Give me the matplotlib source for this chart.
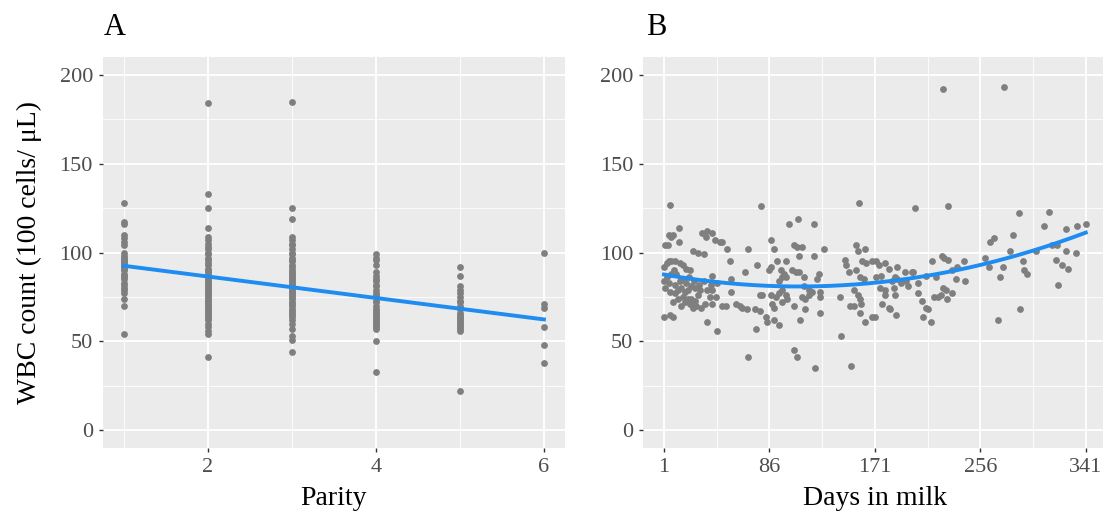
import matplotlib.pyplot as plt
import numpy as np

plt.rcParams['font.family'] = ['Liberation Serif', 'DejaVu Serif']

# Panel A: WBC count by parity
parity_1 = [128, 117, 116, 110, 108, 106, 104, 100, 98, 97, 96, 95, 95, 94, 93, 92, 91, 90, 88,
            87, 86, 85, 83, 82, 80, 79, 77, 74, 70, 54]
parity_2 = [184, 133, 125, 114, 109, 107, 105, 103, 102, 100, 99, 97, 96, 94, 93, 91, 90, 89, 88,
            87, 86, 85, 84, 83, 82, 81, 80, 79, 78, 77, 76, 75, 74, 73, 72, 71, 70, 69, 68, 67,
            66, 65, 64, 63, 62, 60, 58, 56, 54, 41]
parity_3 = [185, 125, 119, 109, 107, 105, 104, 102, 100, 99, 97, 96, 95, 93, 92, 90, 89, 88, 87,
            86, 85, 84, 83, 82, 81, 80, 79, 78, 77, 76, 75, 74, 72, 71, 70, 68, 67, 66, 65, 64,
            62, 60, 57, 53, 51, 44]
parity_4 = [99, 97, 96, 93, 89, 87, 85, 84, 82, 81, 79, 77, 76, 75, 73, 72, 70, 68, 67, 66, 65,
            64, 63, 62, 61, 60, 59, 58, 57, 50, 33]
parity_5 = [92, 87, 81, 79, 77, 75, 73, 72, 70, 69, 68, 66, 65, 64, 63, 62, 61, 60, 59, 58, 57,
            56, 22]
parity_6 = [100, 71, 69, 58, 48, 38]

# Panel B: WBC count by days in milk
dim_days = [6, 79, 158, 13, 5, 7, 8, 13, 2, 4, 32, 36, 40, 35, 42, 46, 48, 52, 24, 28, 33,
            54, 69, 66, 76, 87, 90, 102, 109, 122, 106, 108, 112, 110, 122, 130, 92, 99, 86, 87,
            95, 98, 96, 99, 94, 104, 107, 110, 114, 124, 126,
            147, 148, 150, 156, 157, 161, 164, 163, 169, 156, 159, 162, 154, 157, 159, 160, 151,
            154, 159, 163, 169, 143,
            1, 3, 5, 7, 10, 14, 16, 19, 22, 1, 2, 7, 10, 14, 15, 18, 20, 23, 16, 20, 23, 26, 22, 27,
            24, 31, 34, 38, 40, 39, 40, 43, 30, 28, 15, 10, 1, 6, 8, 36, 44, 40, 44, 48, 51, 55, 55,
            59, 62, 64, 68, 74, 78, 78, 80, 83, 84, 90, 94, 75, 87, 91, 94, 96, 99, 88, 90, 96, 100,
            106, 111, 115, 112, 115, 118, 120, 127, 127, 127, 114, 118,
            69, 106, 108, 123, 144, 152,
            3, 5, 9, 11, 12, 17, 19, 21, 25, 8, 12, 18, 6, 26, 29, 33, 36,
            203, 230, 287, 311, 307, 334, 341, 325, 282, 264, 267, 280,
            260, 263, 274, 272, 290, 291, 294, 301, 314, 318, 325, 317, 322, 327, 333, 319, 288, 270,
            243, 244, 236, 237, 233, 230, 225, 227, 217, 220, 212, 226, 228, 233, 229, 219, 222, 224,
            206, 206, 209, 212, 214, 210, 216,
            202, 198, 195, 189, 187, 186, 187, 179, 177, 182, 183, 188, 171, 179, 172, 174, 179, 182,
            176, 172, 175, 196, 192, 189, 185, 201,
            226, 275]
dim_wbc = [127, 126, 128, 114, 110, 109, 110, 106, 104, 104, 111, 112, 111, 109, 107, 106, 106, 102,
           101, 100, 99, 95, 102, 89, 93, 107, 102, 116, 119, 116, 104, 103, 103, 98, 98, 102, 95,
           95, 90, 92, 90, 88, 86, 86, 84, 90, 89, 89, 86, 85, 88,
           96, 93, 89, 104, 101, 95, 94, 102, 95, 90, 86, 85, 79, 76, 74, 71, 70, 70, 66, 61, 64, 75,
           92, 94, 95, 95, 95, 94, 93, 91, 90, 84, 80, 88, 82, 84, 80, 78, 79, 81, 75, 74, 74, 73,
           71, 70, 69, 69, 71, 75, 79, 82, 71, 75, 79, 76, 70, 77, 64, 65, 64, 61, 56, 87, 83, 70,
           70, 85, 78, 71, 70, 69, 68, 68, 67, 76, 76, 64, 61, 62, 59, 57, 76, 75, 77, 79, 76, 71,
           69, 72, 74, 70, 62, 68, 75, 74, 76, 78, 75, 78, 66, 81, 79,
           41, 45, 41, 35, 53, 36,
           86, 83, 90, 88, 79, 85, 83, 86, 84, 72, 74, 72, 78, 80, 82, 84, 79,
           125, 126, 122, 123, 115, 115, 116, 113, 110, 106, 108, 101,
           97, 92, 92, 86, 95, 90, 88, 101, 104, 104, 101, 96, 93, 91, 100, 82, 68, 62,
           95, 84, 85, 92, 90, 96, 98, 97, 95, 86, 87, 80, 79, 77, 74, 75, 75, 76,
           83, 77, 73, 69, 68, 64, 61,
           89, 81, 89, 92, 86, 80, 76, 76, 71, 69, 68, 65, 64, 79, 95, 93, 94, 91, 87, 86, 80, 84,
           83, 85, 84, 89,
           192, 193]

parity_groups = [parity_1, parity_2, parity_3, parity_4, parity_5, parity_6]
parity_x = []
parity_y = []
for i, vals in enumerate(parity_groups):
    parity_x += [i + 1] * len(vals)
    parity_y += vals
parity_x = np.array(parity_x, dtype=float)
parity_y = np.array(parity_y, dtype=float)
dim_days = np.array(dim_days, dtype=float)
dim_wbc = np.array(dim_wbc, dtype=float)

bg = '#EBEBEB'
pt_col = '#7F7F7F'
line_col = '#1E8CF0'

fig = plt.figure(figsize=(11.03, 5.13), dpi=100)
ax1 = fig.add_axes([0.0931, 0.1267, 0.4191, 0.762])
ax2 = fig.add_axes([0.5829, 0.1267, 0.4206, 0.762])


def style(ax):
    ax.set_facecolor(bg)
    for s in ax.spines.values():
        s.set_visible(False)
    ax.grid(True, which='major', color='white', linewidth=1.3)
    ax.grid(True, which='minor', color='white', linewidth=0.6)
    ax.set_axisbelow(True)
    ax.tick_params(which='major', length=3, width=1, color='#333333',
                   labelsize=16, labelcolor='#4D4D4D', pad=4)
    ax.tick_params(which='minor', length=0)
    ax.set_ylim(-10, 210)
    ax.set_yticks([0, 50, 100, 150, 200])
    ax.set_yticks([25, 75, 125, 175], minor=True)


# panel A
style(ax1)
ax1.scatter(parity_x, parity_y, s=24, color=pt_col, linewidths=0, zorder=2)
coef_a = np.polyfit(parity_x, parity_y, 1)
xa = np.linspace(1, 6, 50)
ax1.plot(xa, np.polyval(coef_a, xa), color=line_col, linewidth=2.8, zorder=3)
ax1.set_xlim(0.75, 6.25)
ax1.set_xticks([2, 4, 6])
ax1.set_xticks([1, 3, 5], minor=True)
ax1.set_xlabel('Parity', fontsize=20, labelpad=7)
ax1.set_ylabel('WBC count (100 cells/ μL)', fontsize=20, labelpad=13)

# panel B
style(ax2)
ax2.scatter(dim_days, dim_wbc, s=24, color=pt_col, linewidths=0, zorder=2)
coef_b = np.polyfit(dim_days, dim_wbc, 2)
xb = np.linspace(1, 341, 200)
ax2.plot(xb, np.polyval(coef_b, xb), color=line_col, linewidth=2.8, zorder=3)
ax2.set_xlim(-16, 358)
ax2.set_xticks([1, 86, 171, 256, 341])
ax2.set_xticks([43.5, 128.5, 213.5, 298.5], minor=True)
ax2.set_xlabel('Days in milk', fontsize=20, labelpad=7)

fig.text(0.094, 0.947, 'A', fontsize=22, va='center', ha='left')
fig.text(0.586, 0.947, 'B', fontsize=22, va='center', ha='left')

fig.savefig('out.png', dpi=100)
